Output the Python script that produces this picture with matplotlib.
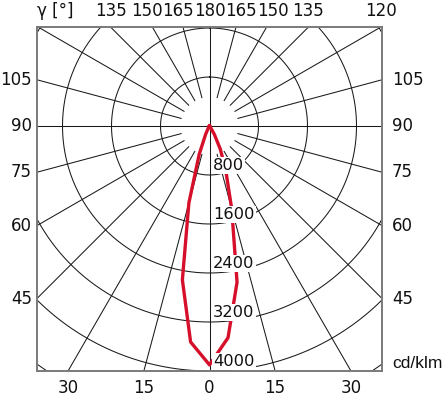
import numpy as np
import matplotlib
matplotlib.use("Agg")
import matplotlib.pyplot as plt

plt.rcParams['font.family'] = ['DejaVu Sans']

# ---- data (cd/klm) ----
gamma = [0, 5, 10, 15, 20, 25, 30, 35, 40]
c0_values = [3900, 3470, 2590, 1400, 780, 420, 160, 30, 0]     # right half
c180_values = [3900, 3540, 2550, 1300, 490, 150, 40, 0, 0]     # left half
ring_values = [800, 1600, 2400, 3200, 4000, 4800]
ring_labels = [800, 1600, 2400, 3200, 4000]
radial_angles = [15, 30, 45, 60, 75, 105, 120, 135, 150, 165]
bottom_ticks = [30, 15, 0]
side_ticks = [45, 60, 75, 90, 105]
top_ticks = [120, 135, 150, 165, 180]

RED = '#d6102a'

fig = plt.figure(figsize=(4.48, 4.0), dpi=100)
ax = fig.add_axes([37 / 448, 29 / 400, 345 / 448, 344 / 400])

PX = 4000 / 245.0          # cd per pixel
XE = 172.5 * PX
YT = 99 * PX
YB = -4000
ax.set_xlim(-XE, XE)
ax.set_ylim(YB, YT)
ax.set_xticks([])
ax.set_yticks([])
for s in ax.spines.values():
    s.set_linewidth(1.4)
    s.set_color('#7a7a7a')
    s.set_zorder(6)

# rings
th = np.linspace(0, 2 * np.pi, 1441)
for r in ring_values:
    ax.plot(r * np.sin(th), r * np.cos(th), color='#1a1a1a', lw=0.75, zorder=1)

# radial lines
r0 = 480
for g in radial_angles:
    gr = np.radians(g)
    for side in (-1, 1):
        ax.plot([side * r0 * np.sin(gr), side * 9000 * np.sin(gr)],
                [-r0 * np.cos(gr), -9000 * np.cos(gr)],
                color='#1a1a1a', lw=0.75, zorder=1)
ax.axhline(0, color='#1a1a1a', lw=0.75, zorder=1)
ax.axvline(0, color='#1a1a1a', lw=0.75, zorder=1)

# intensity curve
g = np.radians(np.array(gamma, dtype=float))
iR = np.array(c0_values, dtype=float)
iL = np.array(c180_values, dtype=float)
xs = np.concatenate([(-iL * np.sin(g))[::-1], (iR * np.sin(g))[1:]])
ys = np.concatenate([(-iL * np.cos(g))[::-1], (-iR * np.cos(g))[1:]])
ax.plot(xs, ys, color=RED, lw=2.4, solid_joinstyle='round', zorder=3)

# ring labels
for r in ring_labels:
    ax.text(3.5 * PX, -r + 5 * PX, str(r), ha='left', va='baseline', fontsize=11.7,
            color='#111111', zorder=5,
            bbox=dict(facecolor='white', edgecolor='none', pad=0.8))

# angle labels
kw = dict(fontsize=12, color='#111111', clip_on=False)
ybot = YB - 17 * PX
for a in bottom_ticks:
    x = 4000 * np.tan(np.radians(a))
    for side in ((-1, 1) if a else (1,)):
        ax.text(side * x, ybot, str(a), ha='center', va='center', **kw)
for a in side_ticks:
    ar = np.radians(a)
    y = -XE * np.cos(ar) / np.sin(ar)
    ax.text(-XE - 5 * PX, y, str(a), ha='right', va='center', **kw)
    ax.text(XE + 10 * PX, y, str(a), ha='left', va='center', **kw)
ytop = YT + 16 * PX
gap = 31.5 * PX
prev = None
xpos = {}
for a in sorted(top_ticks, reverse=True):
    x = YT * np.tan(np.radians(180 - a))
    if prev is not None and x < prev + gap:
        x = prev + gap
    xpos[a] = x
    prev = x
for a, x in xpos.items():
    if a == 120:
        ax.text(x, ytop, str(a), ha='center', va='center', **kw)
    elif a == 180:
        ax.text(0, ytop, str(a), ha='center', va='center', **kw)
    else:
        ax.text(-x, ytop, str(a), ha='center', va='center', **kw)
        ax.text(x, ytop, str(a), ha='center', va='center', **kw)

ax.text(-XE, ytop, 'γ [°]', ha='left', va='center', **kw)
ax.text(XE + 10 * PX, YB + 8 * PX, 'cd/klm', ha='left', va='center',
        fontsize=12.5, color='#111111', clip_on=False, family='Liberation Sans')

fig.savefig('out.png', dpi=100)
